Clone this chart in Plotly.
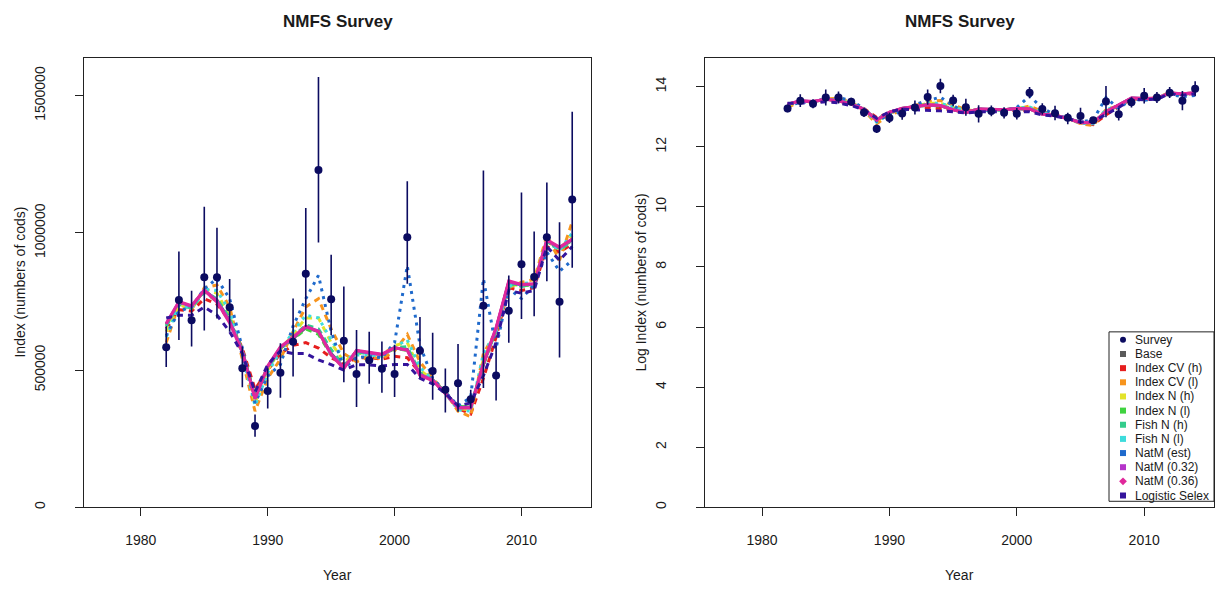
import numpy as np
import plotly.graph_objects as go

W, H = 1217, 589

years = list(range(1982, 2015))

# Survey index (thousands of cods) with interval bounds
survey_k = [583, 755, 682, 838, 838, 729, 507, 296, 424, 490, 603, 851, 1229, 758, 607, 486, 536,
            505, 486, 984, 570, 497, 428, 452, 394, 734, 480, 716, 886, 839, 984, 749, 1122]
survey_lo_k = [511, 610, 586, 644, 688, 640, 437, 257, 360, 399, 477, 658, 965, 627, 456, 365, 450,
               417, 402, 815, 471, 392, 345, 348, 360, 435, 389, 600, 686, 696, 824, 546, 873]
survey_hi_k = [660, 932, 789, 1095, 1019, 832, 586, 338, 507, 598, 761, 1091, 1568, 920, 805, 646, 640,
               604, 592, 1188, 693, 636, 506, 595, 428, 1227, 589, 845, 1147, 1005, 1184, 1039, 1441]

# Model fits (thousands)
base_k = [665, 745, 730, 790, 755, 680, 570, 400, 510, 580, 615, 655, 640, 560, 510, 570, 562,
          556, 580, 575, 485, 465, 417, 365, 365, 520, 650, 820, 810, 812, 970, 945, 975]
cv_h_k = [650, 720, 715, 760, 740, 680, 580, 430, 500, 560, 590, 600, 580, 545, 520, 545, 545,
          540, 550, 545, 490, 460, 420, 360, 340, 470, 620, 800, 790, 800, 950, 930, 960]
cv_l_k = [600, 740, 720, 800, 810, 730, 540, 350, 470, 540, 640, 730, 760, 650, 560, 530, 550,
          540, 570, 630, 530, 470, 420, 350, 330, 560, 640, 800, 820, 830, 990, 900, 1040]
n_h_k = [640, 740, 725, 795, 780, 700, 560, 380, 500, 575, 630, 690, 690, 600, 530, 560, 560,
         555, 590, 600, 500, 465, 415, 360, 355, 540, 640, 810, 810, 820, 975, 940, 990]
n_l_k = [665, 745, 730, 785, 750, 680, 572, 405, 512, 580, 612, 650, 630, 555, 510, 568, 560,
         555, 578, 572, 484, 464, 418, 366, 366, 518, 648, 818, 808, 810, 968, 944, 972]
fish_h_k = [660, 740, 725, 785, 760, 690, 570, 395, 505, 578, 620, 665, 650, 575, 515, 565, 560,
            555, 582, 585, 490, 465, 415, 362, 362, 525, 645, 815, 805, 810, 965, 940, 968]
fish_l_k = [620, 735, 725, 795, 790, 715, 555, 370, 490, 570, 640, 700, 690, 610, 540, 555, 555,
            550, 585, 610, 510, 465, 415, 355, 350, 560, 640, 805, 815, 820, 975, 935, 1000]
natm_est_k = [625, 715, 730, 797, 833, 760, 580, 380, 478, 520, 660, 760, 845, 641, 507, 545, 550,
              545, 600, 880, 590, 470, 420, 370, 400, 833, 580, 797, 761, 810, 930, 860, 900]
natm_32_k = [668, 748, 732, 792, 752, 678, 568, 398, 512, 582, 618, 658, 642, 558, 508, 570, 562,
             556, 580, 574, 484, 464, 416, 364, 364, 522, 652, 822, 810, 814, 972, 946, 976]
natm_36_k = [670, 750, 735, 790, 748, 672, 565, 395, 515, 585, 620, 660, 640, 555, 505, 572, 565,
             558, 582, 572, 480, 462, 414, 362, 362, 525, 655, 825, 812, 815, 975, 948, 978]
logistic_k = [690, 700, 700, 730, 700, 640, 560, 420, 520, 570, 560, 560, 537, 520, 500, 520, 519,
              515, 520, 520, 470, 450, 415, 370, 380, 480, 600, 790, 780, 790, 950, 900, 950]

series_names = ["Base", "Index CV (h)", "Index CV (l)", "Index N (h)", "Index N (l)", "Fish N (h)",
                "Fish N (l)", "NatM (est)", "NatM (0.32)", "NatM (0.36)", "Logistic Selex"]
series_vals = [base_k, cv_h_k, cv_l_k, n_h_k, n_l_k, fish_h_k, fish_l_k, natm_est_k, natm_32_k,
               natm_36_k, logistic_k]

colors = ["#5a5a5a", "#e61e1e", "#f7941d", "#e3e32a", "#3fd33f", "#33cc8c", "#3ddcdc",
          "#1f6acc", "#b534c9", "#e0289b", "#34149c"]
dashes = ["solid", "6px,5px", "6px,5px", "6px,5px", "6px,5px", "6px,5px", "3px,5px",
          "3px,5px", "solid", "solid", "6px,5px"]
legend_symbols = ["square"] * 9 + ["diamond", "square"]

navy = "#0b0b60"
txt = "#1a1a1a"
font_family = "Liberation Sans, Arial, sans-serif"

fig = go.Figure()

for name, vals, col, dsh in zip(series_names, series_vals, colors, dashes):
    v = np.array(vals, dtype=float) * 1000
    fig.add_trace(go.Scatter(x=years, y=v, mode="lines", line=dict(color=col, width=3, dash=dsh),
                             xaxis="x", yaxis="y", showlegend=False, hoverinfo="skip"))
    fig.add_trace(go.Scatter(x=years, y=np.log(v), mode="lines", line=dict(color=col, width=3, dash=dsh),
                             xaxis="x2", yaxis="y2", showlegend=False, hoverinfo="skip"))

s = np.array(survey_k, dtype=float) * 1000
lo = np.array(survey_lo_k, dtype=float) * 1000
hi = np.array(survey_hi_k, dtype=float) * 1000

fig.add_trace(go.Scatter(x=years, y=s, mode="markers",
                         marker=dict(color=navy, size=8),
                         error_y=dict(type="data", symmetric=False, array=hi - s, arrayminus=s - lo,
                                      color=navy, thickness=1.6, width=0),
                         xaxis="x", yaxis="y", showlegend=False))
fig.add_trace(go.Scatter(x=years, y=np.log(s), mode="markers",
                         marker=dict(color=navy, size=8),
                         error_y=dict(type="data", symmetric=False, array=np.log(hi) - np.log(s),
                                      arrayminus=np.log(s) - np.log(lo),
                                      color=navy, thickness=1.6, width=0),
                         xaxis="x2", yaxis="y2", showlegend=False))


def px(x):
    return x / W


def py(y):
    return 1 - y / H


# ---- manual legend ----
leg_labels = ["Survey"] + series_names
leg_colors = [navy] + colors
leg_symbols = ["circle"] + legend_symbols
leg_x_marker = 1123
leg_x_text = 1133
leg_y0 = 341
leg_dy = 14.2
leg_ys = [leg_y0 + i * leg_dy for i in range(len(leg_labels))]

fig.add_trace(go.Scatter(x=[leg_x_marker] * len(leg_labels), y=[H - v for v in leg_ys], mode="markers",
                         marker=dict(color=leg_colors, symbol=leg_symbols, size=6),
                         xaxis="x3", yaxis="y3", showlegend=False, hoverinfo="skip"))

annotations = []
for lab, yy in zip(leg_labels, leg_ys):
    annotations.append(dict(x=px(leg_x_text), y=py(yy), xref="paper", yref="paper", text=lab,
                            showarrow=False, xanchor="left", yanchor="middle",
                            font=dict(family=font_family, size=12, color=txt)))

shapes = [dict(type="rect", xref="paper", yref="paper", x0=px(1109), x1=px(1214), y0=py(503), y1=py(333),
               line=dict(color="#222222", width=1), fillcolor="rgba(255,255,255,0)")]

# boxes in pixels
L = dict(x0=84, x1=591, y0=58, y1=509)
R = dict(x0=705, x1=1214, y0=58, y1=509)


def dom_x(b):
    return [b["x0"] / W, b["x1"] / W]


def dom_y(b):
    return [1 - b["y1"] / H, 1 - b["y0"] / H]


for b, title_y in [(L, "Index (numbers of cods)"), (R, "Log Index (numbers of cods)")]:
    cx = (b["x0"] + b["x1"]) / 2
    annotations.append(dict(x=px(cx), y=py(22), xref="paper", yref="paper", text="<b>NMFS Survey</b>",
                            showarrow=False, xanchor="center", yanchor="middle",
                            font=dict(family=font_family, size=17, color=txt)))
    annotations.append(dict(x=px(cx), y=py(577), xref="paper", yref="paper", text="Year",
                            showarrow=False, xanchor="center", yanchor="middle",
                            font=dict(family=font_family, size=14, color=txt)))
    annotations.append(dict(x=px(b["x0"] - 64), y=py((b["y0"] + b["y1"]) / 2), xref="paper", yref="paper",
                            text=title_y, textangle=-90,
                            showarrow=False, xanchor="center", yanchor="middle",
                            font=dict(family=font_family, size=14, color=txt)))

xr = [1975.52, 2015.48]
axis_common = dict(showgrid=False, zeroline=False, showline=True, mirror=True,
                   linecolor="#222222", linewidth=1, ticks="outside", ticklen=8,
                   tickcolor="#222222", tickfont=dict(family=font_family, size=14, color=txt))

fig.update_layout(
    width=W, height=H,
    margin=dict(l=0, r=0, t=0, b=0),
    paper_bgcolor="white", plot_bgcolor="rgba(0,0,0,0)",
    showlegend=False,
    xaxis=dict(domain=dom_x(L), range=xr, tickvals=[1980, 1990, 2000, 2010], anchor="y",
               ticklabelstandoff=12, **axis_common),
    yaxis=dict(domain=dom_y(L), range=[0, 1638000], tickvals=[0, 500000, 1000000, 1500000],
               ticktext=["0", "500000", "1000000", "1500000"], tickangle=-90, anchor="x",
               ticklabelstandoff=24, **axis_common),
    xaxis2=dict(domain=dom_x(R), range=xr, tickvals=[1980, 1990, 2000, 2010], anchor="y2",
                ticklabelstandoff=12, **axis_common),
    yaxis2=dict(domain=dom_y(R), range=[0, 14.96], tickvals=list(range(0, 15, 2)),
                tickangle=-90, anchor="x2", ticklabelstandoff=24, **axis_common),
    xaxis3=dict(domain=[0, 1], range=[0, W], visible=False, fixedrange=True, anchor="y3"),
    yaxis3=dict(domain=[0, 1], range=[0, H], visible=False, fixedrange=True, anchor="x3"),
    annotations=annotations,
    shapes=shapes,
)

fig.write_html("out.html")
